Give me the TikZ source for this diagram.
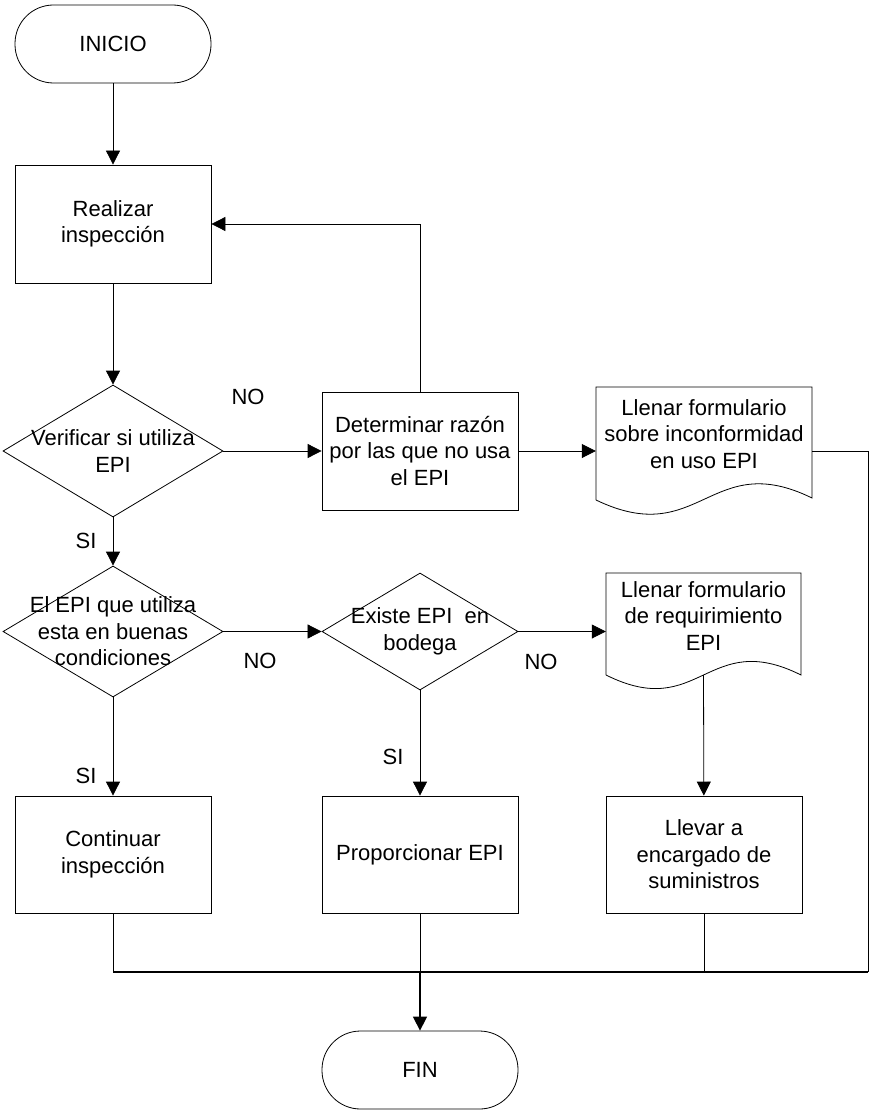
\documentclass[tikz,border=0pt]{standalone}
\usepackage{fontspec}
\setmainfont{Liberation Sans}
\usetikzlibrary{arrows.meta,shapes.geometric,calc}

\begin{document}
\begin{tikzpicture}[x=1pt,y=-1pt,
  every node/.style={font=\fontsize{22}{26.5}\selectfont, align=center},
  line/.style={draw=black, line width=0.8pt},
  bus/.style={draw=black, line width=1.3pt},
  arrow/.style={line, -{Triangle[length=14pt,width=14pt]}},
  busarrow/.style={bus, -{Triangle[length=14pt,width=14pt]}},
  proc/.style={draw, line width=0.8pt, minimum width=196pt, minimum height=118pt, inner sep=0pt},
  term/.style={draw, line width=0.8pt, rounded corners=38.5pt, minimum width=196pt, minimum height=78pt, inner sep=0pt},
  decision/.style={draw, diamond, line width=0.8pt, inner sep=0pt},
  lbl/.style={inner sep=0pt},
  docarea/.style={inner sep=0pt}]

\useasboundingbox (0,0) rectangle (870,1110);

% terminals and process boxes
\node[term] (ini) at (113,44) {INICIO};
\node[proc] (real) at (113,224) {Realizar\\inspección};
\node[proc] (det) at (420,451) {Determinar razón\\por las que no usa\\el EPI};
\node[proc, minimum height=117pt] (cont) at (113,854.5) {Continuar\\inspección};
\node[proc, minimum height=117pt] (prop) at (420,854.5) {Proporcionar EPI};
\node[proc, minimum height=117pt] (llev) at (704,854.5) {Llevar a\\encargado de\\suministros};
\node[term] (fin) at (420,1070) {FIN};

% decisions
\node[decision, minimum width=220pt, minimum height=132pt,
  label={[lbl]center:Verificar si utiliza\\EPI}] (ver) at (113,451) {};
\node[decision, minimum width=220pt, minimum height=131pt,
  label={[lbl]center:El EPI que utiliza\\esta en buenas\\condiciones}] (epi) at (113,631.5) {};
\node[decision, minimum width=196pt, minimum height=117pt,
  label={[lbl]center:Existe EPI\ \ en\\bodega}] (ex) at (420,631.5) {};

% documents (straight part as node, wavy bottom drawn below)
\node[docarea, minimum width=216pt, minimum height=113pt] (f1) at (704,443.5) {};
\node at (704,434) {Llenar formulario\\sobre inconformidad\\en uso EPI};
\draw[line] (596,500) -- (596,387) -- (812,387) -- (812,498)
  .. controls (710,448) and (700,550) .. (596,500);

\node[docarea, minimum width=195pt, minimum height=102pt] (f2) at (703.5,624) {};
\node at (703.5,616) {Llenar formulario\\de requirimiento\\EPI};
\draw[line] (606,675) -- (606,573) -- (801,573) -- (801,675)
  .. controls (707,628) and (700,722) .. coordinate[pos=0.5] (f2w) (606,675);

% branch labels
\node (no1) at (248,396.5) {NO};
\node (si1) at (86,541) {SI};
\node (no2) at (260,661) {NO};
\node (no3) at (541,662) {NO};
\node (si2) at (86,776) {SI};
\node (si3) at (393,757) {SI};

% connectors
\draw[arrow] (ini) -- (real);
\draw[arrow] (real) -- (ver);
\draw[arrow] (ver) -- (det);
\draw[arrow] (det.east) -- (det.east -| f1.west);
\draw[arrow] (det.north) |- (real.east);
\draw[arrow] (ver) -- (epi);
\draw[arrow] (epi) -- (ex);
\draw[arrow] (ex.east) -- (ex.east -| f2.west);
\draw[arrow] (epi) -- (cont);
\draw[arrow] (ex) -- (prop);
\draw[arrow] (f2w) -- (llev);

% collecting line towards the end
\coordinate (join) at (420,972);
\coordinate (rc) at (868,972);
\draw[line] (det.east -| f1.east) -| (rc);
\draw[line] (cont.south) -- (cont.south |- join);
\draw[line] (prop.south) -- (join);
\draw[line] (llev.south) -- (llev.south |- join);
\draw[bus] (cont.south |- join) -- (rc);
\draw[busarrow] (join) -- (fin);
\end{tikzpicture}
\end{document}
